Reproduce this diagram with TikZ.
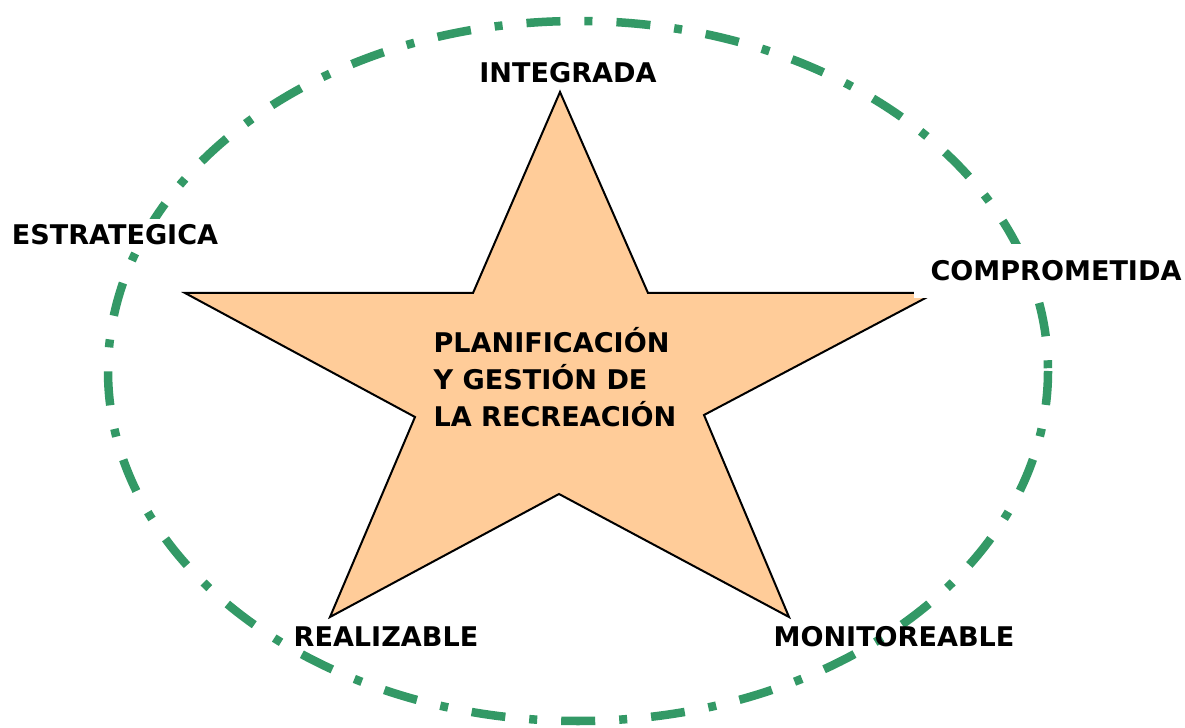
\documentclass[tikz,border=0pt]{standalone}
\usepackage{fontspec}
\setmainfont{DejaVu Sans}
\definecolor{ringgreen}{RGB}{51,153,102}
\definecolor{starorange}{RGB}{255,204,153}
\begin{document}
\begin{tikzpicture}[x=0.01cm,y=-0.01cm,
  ring/.style={draw=ringgreen,line width=0.085cm,
    dash pattern=on 0.34cm off 0.24cm on 0.08cm off 0.24cm},
  starfill/.style={draw=black,fill=starorange,line width=0.02cm,line join=miter},
  lbl/.style={inner sep=1pt,font=\fontsize{7.7}{10.6}\selectfont\bfseries}]
\useasboundingbox (0,0) rectangle (1185,728);
\draw[ring] (578,371) ellipse (470 and 350);
\coordinate (s1) at (560,92);
\coordinate (s2) at (648,293);
\coordinate (s3) at (935,293);
\coordinate (s4) at (704,415);
\coordinate (s5) at (789,617);
\coordinate (s6) at (559,494);
\coordinate (s7) at (330,617);
\coordinate (s8) at (415,417);
\coordinate (s9) at (185,293);
\coordinate (s10) at (473,293);
\draw[starfill] (s1) -- (s2) -- (s3) -- (s4) -- (s5) -- (s6) -- (s7) -- (s8) -- (s9) -- (s10) -- cycle;
\node[lbl,align=left] (centro) at (555,377) {PLANIFICACIÓN\\Y GESTIÓN DE\\LA RECREACIÓN};
\node[lbl] (integrada) at (568,73) {INTEGRADA};
\node[lbl,fill=white,inner sep=0.06cm] (estrategica) at (115,235) {ESTRATEGICA};
\node[lbl,fill=white,inner sep=0.17cm] (comprometida) at (1056,271) {COMPROMETIDA};
\node[lbl] (realizable) at (386,637) {REALIZABLE};
\node[lbl] (monitoreable) at (894,637) {MONITOREABLE};
\end{tikzpicture}
\end{document}
